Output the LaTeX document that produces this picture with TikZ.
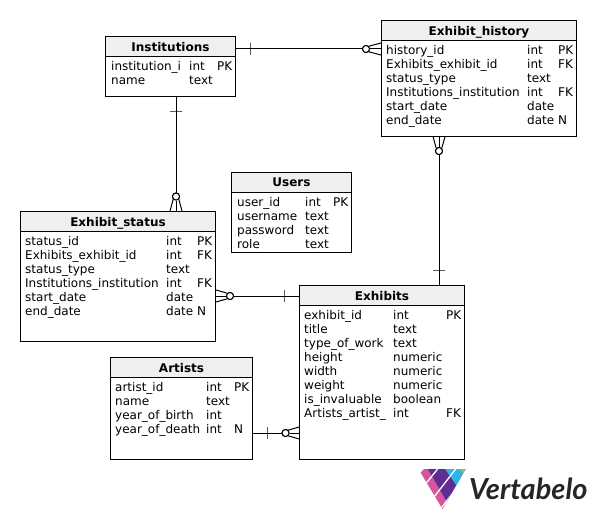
\documentclass[tikz,border=0pt]{standalone}
\usepackage{fontspec}
\setmainfont{DejaVu Sans}
\newfontfamily\logofont{Lato}
\definecolor{hdr}{HTML}{EFEFEF}
\definecolor{lp}{HTML}{D4569C}
\definecolor{dp}{HTML}{5F2D91}
\definecolor{lb}{HTML}{2DB5E8}
\definecolor{lg}{HTML}{96C245}
\definecolor{lt}{HTML}{262626}
\tikzset{
 x=1pt,y=-1pt,
 tbl/.style={draw=black,line width=1pt,fill=white,rectangle,inner sep=0pt,minimum width=#1,anchor=north west},
 hd/.style={draw=black,line width=1pt,fill=hdr,anchor=north west,inner sep=0pt,minimum width=#1,minimum height=20pt,text depth=-0.5pt,font=\fontsize{12}{14}\selectfont\bfseries},
 cell/.style={anchor=base west,inner sep=0pt,font=\fontsize{12}{14}\selectfont},
 rel/.style={line width=1pt,draw=black},
 ring/.style={circle,draw=black,line width=1pt,fill=white,inner sep=0pt,minimum size=7pt},
 hbar/.style={rectangle,draw=black,line width=1pt,inner sep=0pt,minimum width=0pt,minimum height=12pt},
 vbar/.style={rectangle,draw=black,line width=1pt,inner sep=0pt,minimum width=12pt,minimum height=0pt},
}
\newcommand{\entity}[6]{%
 \node[tbl=#5 pt,minimum height=#6 pt] (#1) at (#3,#4) {};
 \node[hd=#5 pt] (#1h) at (#3,#4) {#2};
}
\begin{document}
\begin{tikzpicture}
\useasboundingbox (0,0) rectangle (596,519);
\fill[white] (0,0) rectangle (596,519);

\entity{inst}{Institutions}{105}{36}{130}{60}
\entity{hist}{Exhibit\_history}{381}{20}{195}{115.5}
\entity{users}{Users}{231}{172}{120}{80}
\entity{stat}{Exhibit\_status}{20}{211}{195}{130}
\entity{exh}{Exhibits}{299}{285}{165}{174}
\entity{art}{Artists}{110}{357}{142}{102}

\foreach \n/\a/\b [count=\i from 0] in {institution\_i/int/PK,name/text/}{
 \node[cell] (i\i a) at (111,{70.6+14*\i}) {\n};
 \node[cell] (i\i b) at (189,{70.6+14*\i}) {\a};
 \node[cell] (i\i c) at (217,{70.6+14*\i}) {\b};
}
\foreach \n/\a/\b [count=\i from 0] in {history\_id/int/PK,Exhibits\_exhibit\_id/int/FK,status\_type/text/,Institutions\_institution/int/FK,start\_date/date/,end\_date/date/N}{
 \node[cell] (h\i a) at (386,{54.6+14*\i}) {\n};
 \node[cell] (h\i b) at (527,{54.6+14*\i}) {\a};
 \node[cell] (h\i c) at (558,{54.6+14*\i}) {\b};
}
\foreach \n/\a/\b [count=\i from 0] in {user\_id/int/PK,username/text/,password/text/,role/text/}{
 \node[cell] (u\i a) at (237,{206.6+14*\i}) {\n};
 \node[cell] (u\i b) at (305,{206.6+14*\i}) {\a};
 \node[cell] (u\i c) at (333,{206.6+14*\i}) {\b};
}
\foreach \n/\a/\b [count=\i from 0] in {status\_id/int/PK,Exhibits\_exhibit\_id/int/FK,status\_type/text/,Institutions\_institution/int/FK,start\_date/date/,end\_date/date/N}{
 \node[cell] (s\i a) at (25,{245.6+14*\i}) {\n};
 \node[cell] (s\i b) at (166,{245.6+14*\i}) {\a};
 \node[cell] (s\i c) at (197,{245.6+14*\i}) {\b};
}
\foreach \n/\a/\b [count=\i from 0] in {exhibit\_id/int/PK,title/text/,type\_of\_work/text/,height/numeric/,width/numeric/,weight/numeric/,is\_invaluable/boolean/,Artists\_artist\_/int/FK}{
 \node[cell] (e\i a) at (304,{319.6+14*\i}) {\n};
 \node[cell] (e\i b) at (393,{319.6+14*\i}) {\a};
 \node[cell] (e\i c) at (446,{319.6+14*\i}) {\b};
}
\foreach \n/\a/\b [count=\i from 0] in {artist\_id/int/PK,name/text/,year\_of\_birth/int/,year\_of\_death/int/N}{
 \node[cell] (a\i a) at (115,{391.6+14*\i}) {\n};
 \node[cell] (a\i b) at (206,{391.6+14*\i}) {\a};
 \node[cell] (a\i c) at (234,{391.6+14*\i}) {\b};
}

% Institutions -- Exhibit_history
\node[ring] (r1) at (366,49) {};
\draw[rel] ([yshift=-13pt]inst.north east) -- (r1);
\node[hbar] (b1) at (250,49) {};
\draw[rel] (r1) -- ([yshift=-29pt]hist.north west);
\draw[rel] (r1.north east) -- ([yshift=-23pt]hist.north west);
\draw[rel] (r1.south east) -- ([yshift=-35pt]hist.north west);
\node[ring] at (r1) {};
% Institutions -- Exhibit_status
\node[ring] (r2) at (176,196.5) {};
\draw[rel] ([xshift=71pt]inst.south west) -- (r2);
\node[vbar] (b2) at (176,111) {};
\draw[rel] (r2) -- ([xshift=156pt]stat.north west);
\draw[rel] (r2.south west) -- ([xshift=150pt]stat.north west);
\draw[rel] (r2.south east) -- ([xshift=162pt]stat.north west);
\node[ring] at (r2) {};
% Exhibit_status -- Exhibits
\node[ring] (r3) at (230,296) {};
\draw[rel] ([yshift=-11pt]exh.north west) -- (r3);
\node[hbar] (b3) at (284,296) {};
\draw[rel] (r3) -- ([yshift=-85pt]stat.north east);
\draw[rel] (r3.north west) -- ([yshift=-79pt]stat.north east);
\draw[rel] (r3.south west) -- ([yshift=-91pt]stat.north east);
\node[ring] at (r3) {};
% Artists -- Exhibits
\node[ring] (r4) at (285.5,433) {};
\draw[rel] ([yshift=-76pt]art.north east) -- (r4);
\node[hbar] (b4) at (267,433) {};
\draw[rel] (r4) -- ([yshift=-148pt]exh.north west);
\draw[rel] (r4.north east) -- ([yshift=-142pt]exh.north west);
\draw[rel] (r4.south east) -- ([yshift=-154pt]exh.north west);
\node[ring] at (r4) {};
% Exhibit_history -- Exhibits
\node[ring] (r5) at (439,151) {};
\draw[rel] ([xshift=140pt]exh.north west) -- (r5);
\node[vbar] (b5) at (439,270) {};
\draw[rel] (r5) -- ([xshift=58pt]hist.south west);
\draw[rel] (r5.north west) -- ([xshift=52pt]hist.south west);
\draw[rel] (r5.north east) -- ([xshift=64pt]hist.south west);
\node[ring] at (r5) {};

% Logo
\begin{scope}
\clip (420.5,472.5) -- (424,469) -- (465.5,469) -- (442.5,509) -- cycle;
\fill[lp] (415,465) rectangle (470,512);
\fill[dp] (426,466) -- (470,466) -- (470,512) -- (453,512) -- cycle;
\fill[lb] (443,466) -- (470,466) -- (470,505) -- cycle;
\fill[lg] (456,466) -- (470,466) -- (470,480) -- cycle;
\draw[white,line width=1.3pt] (424,486) -- (440,466);
\draw[white,line width=1.3pt] (432.5,499) -- (458,466);
\draw[white,line width=1.3pt] (440.5,509) -- (468,473);
\end{scope}
\node[anchor=base west,inner sep=0pt,text=lt,font=\logofont\itshape\bfseries\fontsize{29}{32}\selectfont] (logo) at (469,499) {Vertabelo};
\end{tikzpicture}
\end{document}
